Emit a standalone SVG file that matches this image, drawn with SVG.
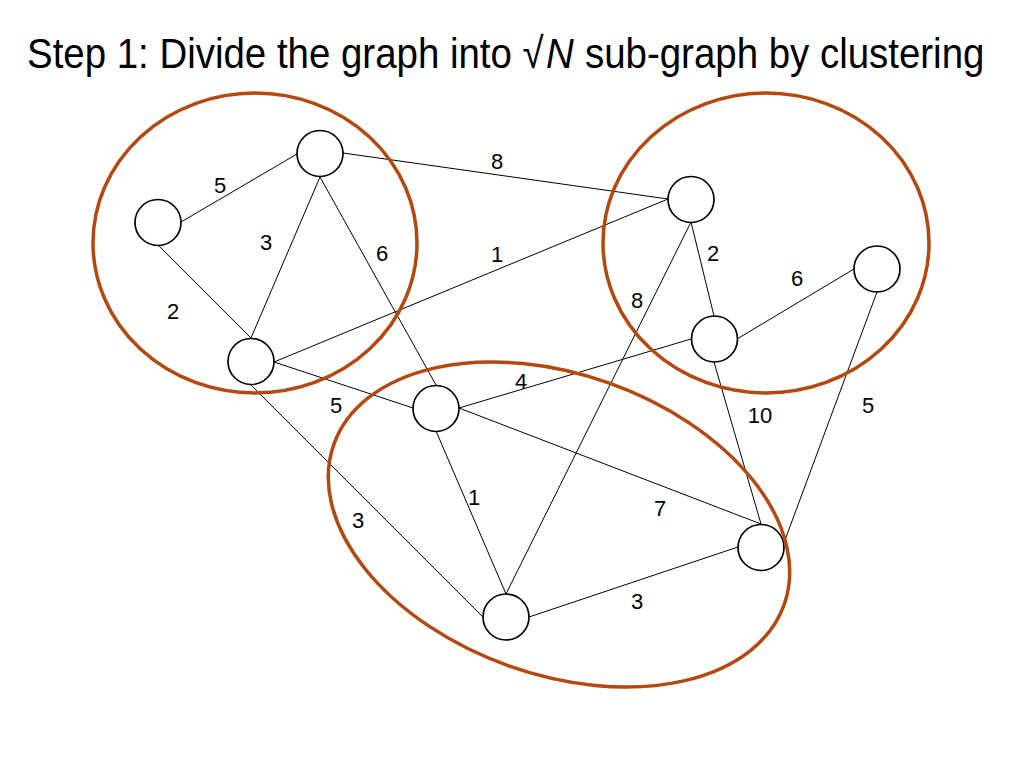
<svg xmlns="http://www.w3.org/2000/svg" width="1023" height="767" viewBox="0 0 1023 767">
<style>
.edge{stroke:#000;stroke-width:1;fill:none}
.node{fill:#fff;stroke:#000;stroke-width:1.7}
.cluster{fill:none;stroke:#B5480E;stroke-width:3.5}
.lbl{font-family:"Liberation Sans",Arial,sans-serif;font-size:22px;fill:#000;text-anchor:middle}
.title{font-family:"Liberation Sans",Arial,sans-serif;font-size:43px;fill:#000}
</style>
<rect width="1023" height="767" fill="#fff"/>
<g id="title">
<text class="title" transform="translate(27 68) scale(0.894 1)">Step 1: Divide the graph into √</text>
<text class="title" transform="translate(546 68) scale(0.894 1)" font-style="italic">N</text>
<text class="title" transform="translate(585 68) scale(0.894 1)">sub-graph by clustering</text>
</g>
<g id="connectors">
<line class="edge" x1="181" y1="222" x2="297" y2="154"/>
<line class="edge" x1="159" y1="246" x2="251" y2="338"/>
<line class="edge" x1="320" y1="177" x2="251" y2="338"/>
<line class="edge" x1="320" y1="177" x2="436" y2="385"/>
<line class="edge" x1="343" y1="153" x2="668" y2="199"/>
<line class="edge" x1="274" y1="362" x2="668" y2="199"/>
<line class="edge" x1="274" y1="362" x2="413" y2="408"/>
<line class="edge" x1="251" y1="385" x2="483" y2="617"/>
<line class="edge" x1="459" y1="408" x2="691" y2="339"/>
<line class="edge" x1="436" y1="431" x2="506" y2="594"/>
<line class="edge" x1="459" y1="408" x2="761" y2="524"/>
<line class="edge" x1="691" y1="222" x2="506" y2="594"/>
<line class="edge" x1="691" y1="222" x2="714" y2="316"/>
<line class="edge" x1="737" y1="339" x2="854" y2="269"/>
<line class="edge" x1="714" y1="362" x2="761" y2="524"/>
<line class="edge" x1="877" y1="292" x2="785" y2="540"/>
<line class="edge" x1="529" y1="617" x2="738" y2="547"/>
</g>
<g id="labels">
<text class="lbl" x="220" y="193">5</text>
<text class="lbl" x="266" y="250">3</text>
<text class="lbl" x="382" y="261">6</text>
<text class="lbl" x="173" y="319">2</text>
<text class="lbl" x="497" y="169">8</text>
<text class="lbl" x="497" y="262">1</text>
<text class="lbl" x="713" y="261">2</text>
<text class="lbl" x="797" y="286">6</text>
<text class="lbl" x="637" y="308">8</text>
<text class="lbl" x="868" y="413">5</text>
<text class="lbl" x="760" y="423">10</text>
<text class="lbl" x="521" y="389">4</text>
<text class="lbl" x="336" y="413">5</text>
<text class="lbl" x="474" y="505">1</text>
<text class="lbl" x="660" y="516">7</text>
<text class="lbl" x="358" y="528">3</text>
<text class="lbl" x="637" y="609">3</text>
</g>
<g id="nodeA"><circle class="node" cx="158" cy="222.5" r="23"/></g>
<g id="nodeB"><circle class="node" cx="320" cy="153.5" r="23"/></g>
<g id="nodeC"><circle class="node" cx="251" cy="361.5" r="23"/></g>
<g id="nodeD"><circle class="node" cx="436" cy="408.5" r="23"/></g>
<g id="nodeE"><circle class="node" cx="691" cy="199.5" r="23"/></g>
<g id="nodeF"><circle class="node" cx="877" cy="269" r="23"/></g>
<g id="nodeG"><circle class="node" cx="714.5" cy="339" r="23"/></g>
<g id="nodeH"><circle class="node" cx="761" cy="547.5" r="23"/></g>
<g id="nodeI"><circle class="node" cx="506" cy="617" r="23"/></g>
<g id="clusters">
<ellipse class="cluster" cx="255" cy="243" rx="162" ry="150"/>
<ellipse class="cluster" cx="766" cy="243" rx="163" ry="150"/>
<ellipse class="cluster" cx="559" cy="524.5" rx="239" ry="150" transform="rotate(19.6 559 524.5)"/>
</g>
</svg>
